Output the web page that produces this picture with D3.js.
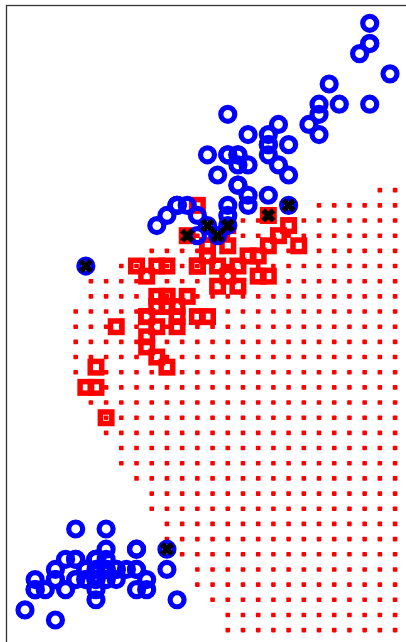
<!DOCTYPE html>
<html>
<head>
<meta charset="utf-8">
<script src="https://cdn.jsdelivr.net/npm/d3@7"></script>
<style>
  html, body { margin: 0; padding: 0; background: #fff; }
  svg { display: block; }
</style>
</head>
<body>
<svg id="chart" width="406" height="642"></svg>
<script>
// Iris: sepal length (x) against petal length (y)
const categories = ["setosa", "versicolor", "virginica"];

const setosaSepal = [5.1,4.9,4.7,4.6,5.0,5.4,4.6,5.0,4.4,4.9,5.4,4.8,4.8,4.3,5.8,5.7,5.4,5.1,5.7,5.1,
  5.4,5.1,4.6,5.1,4.8,5.0,5.0,5.2,5.2,4.7,4.8,5.4,5.2,5.5,4.9,5.0,5.5,4.9,4.4,5.1,
  5.0,4.5,4.4,5.0,5.1,4.8,5.1,4.6,5.3,5.0];
const setosaPetal = [1.4,1.4,1.3,1.5,1.4,1.7,1.4,1.5,1.4,1.5,1.5,1.6,1.4,1.1,1.2,1.5,1.3,1.4,1.7,1.5,
  1.7,1.5,1.0,1.7,1.9,1.6,1.6,1.5,1.4,1.6,1.6,1.5,1.5,1.4,1.5,1.2,1.3,1.4,1.3,1.5,
  1.3,1.3,1.3,1.6,1.9,1.4,1.6,1.4,1.5,1.4];

const versicolorSepal = [7.0,6.4,6.9,5.5,6.5,5.7,6.3,4.9,6.6,5.2,5.0,5.9,6.0,6.1,5.6,6.7,5.6,5.8,6.2,5.6,
  5.9,6.1,6.3,6.1,6.4,6.6,6.8,6.7,6.0,5.7,5.5,5.5,5.8,6.0,5.4,6.0,6.7,6.3,5.6,5.5,
  5.5,6.1,5.8,5.0,5.6,5.7,5.7,6.2,5.1,5.7];
const versicolorPetal = [4.7,4.5,4.9,4.0,4.6,4.5,4.7,3.3,4.6,3.9,3.5,4.2,4.0,4.7,3.6,4.4,4.5,4.1,4.5,3.9,
  4.8,4.0,4.9,4.7,4.3,4.4,4.8,5.0,4.5,3.5,3.8,3.7,3.9,5.1,4.5,4.5,4.7,4.4,4.1,4.0,
  4.4,4.6,4.0,3.3,4.2,4.2,4.2,4.3,3.0,4.1];

const virginicaSepal = [6.3,5.8,7.1,6.3,6.5,7.6,4.9,7.3,6.7,7.2,6.5,6.4,6.8,5.7,5.8,6.4,6.5,7.7,7.7,6.0,
  6.9,5.6,7.7,6.3,6.7,7.2,6.2,6.1,6.4,7.2,7.4,7.9,6.4,6.3,6.1,7.7,6.3,6.4,6.0,6.9,
  6.7,6.9,5.8,6.8,6.7,6.7,6.3,6.5,6.2,5.9];
const virginicaPetal = [6.0,5.1,5.9,5.6,5.8,6.6,4.5,6.3,5.8,6.1,5.1,5.3,5.5,5.0,5.1,5.3,5.5,6.7,6.9,5.0,
  5.7,4.9,6.7,4.9,5.7,6.0,4.8,4.9,5.6,5.8,6.1,6.4,5.6,5.1,5.6,6.1,5.6,5.5,4.8,5.4,
  5.6,5.1,5.1,5.9,5.7,5.2,5.0,5.2,5.4,5.1];

// Samples whose predicted class differs from their label
const missSepal = [4.9, 5.7, 5.9, 6.7, 6.1, 6.3, 6.2, 6.9];
const missPetal = [4.5, 1.7, 4.8, 5.0, 4.9, 4.9, 4.8, 5.1];

// Evaluation lattice and the cells predicted as versicolor ('1')
const gridSepal = [4.80,4.95,5.10,5.25,5.40,5.55,5.70,5.85,6.00,6.15,6.30,
  6.45,6.60,6.75,6.90,7.05,7.20,7.35,7.50,7.65,7.80,7.95];
const gridPetal = [5.25,5.10,4.95,4.80,4.65,4.50,4.35,4.20,4.05,3.90,3.75,3.60,3.45,3.30,3.15,
  3.00,2.85,2.70,2.55,2.40,2.25,2.10,1.95,1.80,1.65,1.50,1.35,1.20,1.05,0.90];
const gridMask = [
  "0000000000000000000011",
  "0000000000000010111111",
  "0000000000011111111111",
  "0000000011111111111111",
  "0000011111111111111111",
  "0101111111111111111111",
  "0111111111111111111111",
  "0111111111111111111111",
  "1111111111111111111111",
  "1111111111111111111111",
  "1111111111111111111111",
  "1111111111111111111111",
  "1111111111111111111111",
  "0111111111111111111111",
  "0111111111111111111111",
  "0011111111111111111111",
  "0011111111111111111111",
  "0001111111111111111111",
  "0001111111111111111111",
  "0000111111111111111111",
  "0000011111111111111111",
  "0000011111111111111111",
  "0000001111111111111111",
  "0000001111111111111111",
  "0000000111111111111111",
  "0000000011111111111111",
  "0000000011111111111111",
  "0000000001111111111111",
  "0000000000111111111111",
  "0000000000111111111111"
];

const BLUE = "#0000ff", RED = "#ff0000";

const svg = d3.select("#chart");
const W = 406, H = 642;

const x = d3.scaleLinear().domain([4.3, 7.9]).range([25, 390]);
const y = d3.scaleLinear().domain([1.0, 6.9]).range([620, 23.3]);

svg.append("rect").attr("width", W).attr("height", H).attr("fill", "#fff");

// axes box (extends past the visible window on the right and bottom)
svg.append("rect")
  .attr("x", 6.5).attr("y", 5.5)
  .attr("width", 420).attr("height", 660)
  .attr("fill", "none").attr("stroke", "#333").attr("stroke-width", 1.3);

const pts = (xs, ys) => xs.map((v, i) => ({ s: v, p: ys[i] }));

// predicted-versicolor lattice points
const cells = [];
gridMask.forEach((row, r) => {
  row.split("").forEach((c, j) => {
    if (c === "1") cells.push({ s: gridSepal[j], p: gridPetal[r] });
  });
});
svg.append("g").selectAll("rect").data(cells).join("rect")
  .attr("x", d => x(d.s) - 2.3).attr("y", d => y(d.p) - 2.3)
  .attr("width", 4.6).attr("height", 4.6)
  .attr("rx", 0.8)
  .attr("fill", RED);

// versicolor: open squares
const sq = 11.5;
svg.append("g").selectAll("rect").data(pts(versicolorSepal, versicolorPetal)).join("rect")
  .attr("x", d => x(d.s) - sq / 2).attr("y", d => y(d.p) - sq / 2)
  .attr("width", sq).attr("height", sq)
  .attr("fill", "none").attr("stroke", RED).attr("stroke-width", 5.5);

// setosa and virginica: open circles
const blues = pts(setosaSepal, setosaPetal).concat(pts(virginicaSepal, virginicaPetal));
svg.append("g").selectAll("circle").data(blues).join("circle")
  .attr("cx", d => x(d.s)).attr("cy", d => y(d.p))
  .attr("r", 7)
  .attr("fill", "none").attr("stroke", BLUE).attr("stroke-width", 5.2);

// misclassified samples: heavy black crosses
const k = 5.2;
svg.append("g").selectAll("path").data(pts(missSepal, missPetal)).join("path")
  .attr("d", d => {
    const cx = x(d.s), cy = y(d.p);
    return `M${cx - k},${cy - k}L${cx + k},${cy + k}M${cx - k},${cy + k}L${cx + k},${cy - k}`;
  })
  .attr("stroke", "#000").attr("stroke-width", 5.5).attr("fill", "none");
</script>
</body>
</html>
